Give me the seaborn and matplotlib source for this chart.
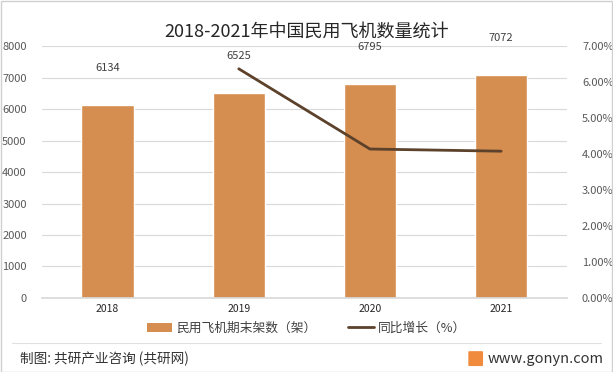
import matplotlib
matplotlib.use("Agg")
import matplotlib.pyplot as plt
import seaborn as sns
import pandas as pd
from matplotlib.patches import Patch
from matplotlib.lines import Line2D
import matplotlib.ticker as mtick

years = ["2018", "2019", "2020", "2021"]
fleet = [6134, 6525, 6795, 7072]
growth_years = ["2019", "2020", "2021"]
growth = [6.37, 4.14, 4.08]

title = "2018-2021年中国民用飞机数量统计"
bar_label = "民用飞机期末架数（架）"
line_label = "同比增长（%）"
source = "制图: 共研产业咨询 (共研网)"
site = "www.gonyn.com"

sns.set_theme(style="white")
plt.rcParams['font.family'] = ['Noto Sans CJK SC', 'DejaVu Sans']

bar_color = "#D58E4F"
line_color = "#5C412B"
txt = "#404040"

fig = plt.figure(figsize=(6.13, 3.72), dpi=100)
ax = fig.add_axes([0.0685, 0.199, 0.856, 0.677])

df = pd.DataFrame({"year": years, "fleet": fleet})
sns.barplot(data=df, x="year", y="fleet", color=bar_color, width=0.4, ax=ax,
            saturation=1, zorder=2)
ax.set_ylim(0, 8000)
ax.set_yticks(range(0, 8001, 1000))
ax.grid(axis="y", color="#D9D9D9", linewidth=0.8, zorder=0)
ax.set_xlabel("")
ax.set_ylabel("")
for s in ax.spines.values():
    s.set_visible(False)
ax.spines["bottom"].set_visible(True)
ax.spines["bottom"].set_color("#D9D9D9")
ax.tick_params(axis="both", labelsize=8, colors="#595959", length=0, pad=4)
ax.tick_params(axis="y", pad=11)
ax.tick_params(axis="x", labelcolor="#262626", labelsize=7.5)

for i, v in enumerate(fleet):
    ax.annotate(str(v), (i, v), xytext=(0, 32), textcoords="offset pixels",
                ha="center", va="bottom", fontsize=8, color=txt)

ax2 = ax.twinx()
gdf = pd.DataFrame({"x": [years.index(y) for y in growth_years], "g": growth})
sns.lineplot(data=gdf, x="x", y="g", color=line_color, linewidth=2, ax=ax2)
ax2.set_ylim(0, 7)
ax2.set_yticks(range(0, 8))
ax2.yaxis.set_major_formatter(mtick.FuncFormatter(lambda v, p: f"{v:.2f}%"))
ax2.set_ylabel("")
ax2.set_xlabel("")
for s in ax2.spines.values():
    s.set_visible(False)
ax2.tick_params(axis="y", labelsize=8, colors="#595959", length=0, pad=11)
ax2.grid(False)
ax.set_xlim(-0.5, 3.5)

fig.text(0.5, 0.915, title, ha="center", va="center", fontsize=13, color="#262626")

handles = [Patch(facecolor=bar_color, edgecolor="none"),
           Line2D([0], [0], color=line_color, linewidth=2)]
fig.legend(handles, [bar_label, line_label], loc="center", bbox_to_anchor=(0.5, 0.118),
           ncol=2, frameon=False, fontsize=9.2, handlelength=2.0, handleheight=0.7,
           handletextpad=0.3, columnspacing=2.5, labelcolor=txt)

# footer
fig.add_artist(Line2D([0.02, 0.98], [0.078, 0.078], transform=fig.transFigure,
                      color="#E0E0E0", linewidth=0.8))
fig.text(0.033, 0.035, source, ha="left", va="center", fontsize=9.8, color="#333333",
         fontweight="medium")
fig.text(0.985, 0.035, site, ha="right", va="center", fontsize=10.5, color="#333333")
fig.patches.append(matplotlib.patches.FancyBboxPatch((0.766, 0.018), 0.02, 0.036,
                   boxstyle="round,pad=0.002", transform=fig.transFigure,
                   facecolor="#F08A3C", edgecolor="none"))
# figure border
fig.add_artist(matplotlib.patches.Rectangle((0.001, 0.001), 0.997, 0.996,
               transform=fig.transFigure, fill=False, edgecolor="#D0D0D0", linewidth=1))

fig.savefig("out.png", dpi=100)
